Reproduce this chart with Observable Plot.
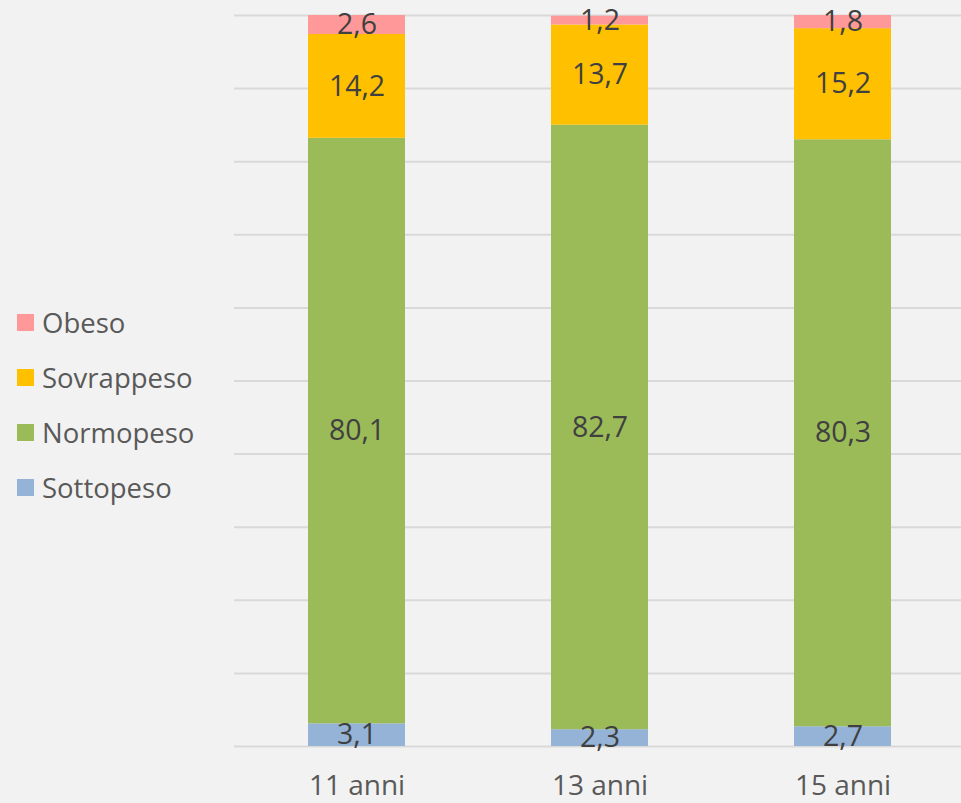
<!DOCTYPE html>
<html>
<head>
<meta charset="utf-8">
<script src="https://cdn.jsdelivr.net/npm/d3@7"></script>
<script src="https://cdn.jsdelivr.net/npm/@observablehq/plot@0.6"></script>
<style>
  html, body { margin: 0; padding: 0; background: #f2f2f2; }
  #wrap { position: relative; width: 961px; height: 803px; font-family: "Open Sans", "Noto Sans", sans-serif; }
  #legend { position: absolute; left: 17px; top: 0; }
  .item { position: absolute; left: 0; display: flex; align-items: center; white-space: nowrap; font-size: 27.5px; color: #595959; }
  .sw { width: 17px; height: 17px; margin-right: 8px; }
</style>
</head>
<body>
<div id="wrap"><div id="legend"></div></div>
<script>
const ages = ["11 anni", "13 anni", "15 anni"];
const categories = ["Sottopeso", "Normopeso", "Sovrappeso", "Obeso"];
const colors = ["#95b3d7", "#9bbb59", "#ffc000", "#ff9999"];
const sottopeso = [3.1, 2.3, 2.7];
const normopeso = [80.1, 82.7, 80.3];
const sovrappeso = [14.2, 13.7, 15.2];
const obeso = [2.6, 1.2, 1.8];
const gridTicks = [0, 10, 20, 30, 40, 50, 60, 70, 80, 90, 100];

const seriesValues = [sottopeso, normopeso, sovrappeso, obeso];
const data = [];
categories.forEach((c, ci) => ages.forEach((a, ai) => data.push({age: a, cat: c, value: seriesValues[ci][ai]})));

const fmt = v => String(v).replace(".", ",");
const font = "\"Open Sans\", \"Noto Sans\", sans-serif";

const chart = Plot.plot({
  width: 961,
  height: 803,
  marginLeft: 234,
  marginRight: 0,
  marginTop: 15,
  marginBottom: 57,
  style: {background: "#f2f2f2", fontFamily: font},
  x: {domain: ages, paddingInner: 0.6, paddingOuter: 0.293, align: 0.512, label: null},
  y: {domain: [0, 100], axis: null},
  color: {domain: categories, range: colors},
  marks: [
    Plot.ruleY(gridTicks, {stroke: "#d9d9d9", strokeWidth: 2}),
    Plot.barY(data, Plot.stackY({x: "age", y: "value", fill: "cat", order: categories})),
    Plot.text(data, Plot.stackY({x: "age", y: "value", z: "cat", order: categories, text: d => fmt(d.value), fill: "#404040", fontSize: 28.5})),
    Plot.axisX({tickSize: 0, tickPadding: 29, fontSize: 28, color: "#595959", fill: "#595959"})
  ]
});
document.getElementById("wrap").prepend(chart);

const legend = document.getElementById("legend");
const legendCats = categories.slice().reverse();
const legendCols = colors.slice().reverse();
legendCats.forEach((c, i) => {
  const item = document.createElement("div");
  item.className = "item";
  item.style.top = (322 + i * 55 - 18) + "px";
  item.style.height = "36px";
  const sw = document.createElement("div");
  sw.className = "sw";
  sw.style.background = legendCols[i];
  const t = document.createElement("span");
  t.textContent = c;
  item.appendChild(sw);
  item.appendChild(t);
  legend.appendChild(item);
});
</script>
</body>
</html>
